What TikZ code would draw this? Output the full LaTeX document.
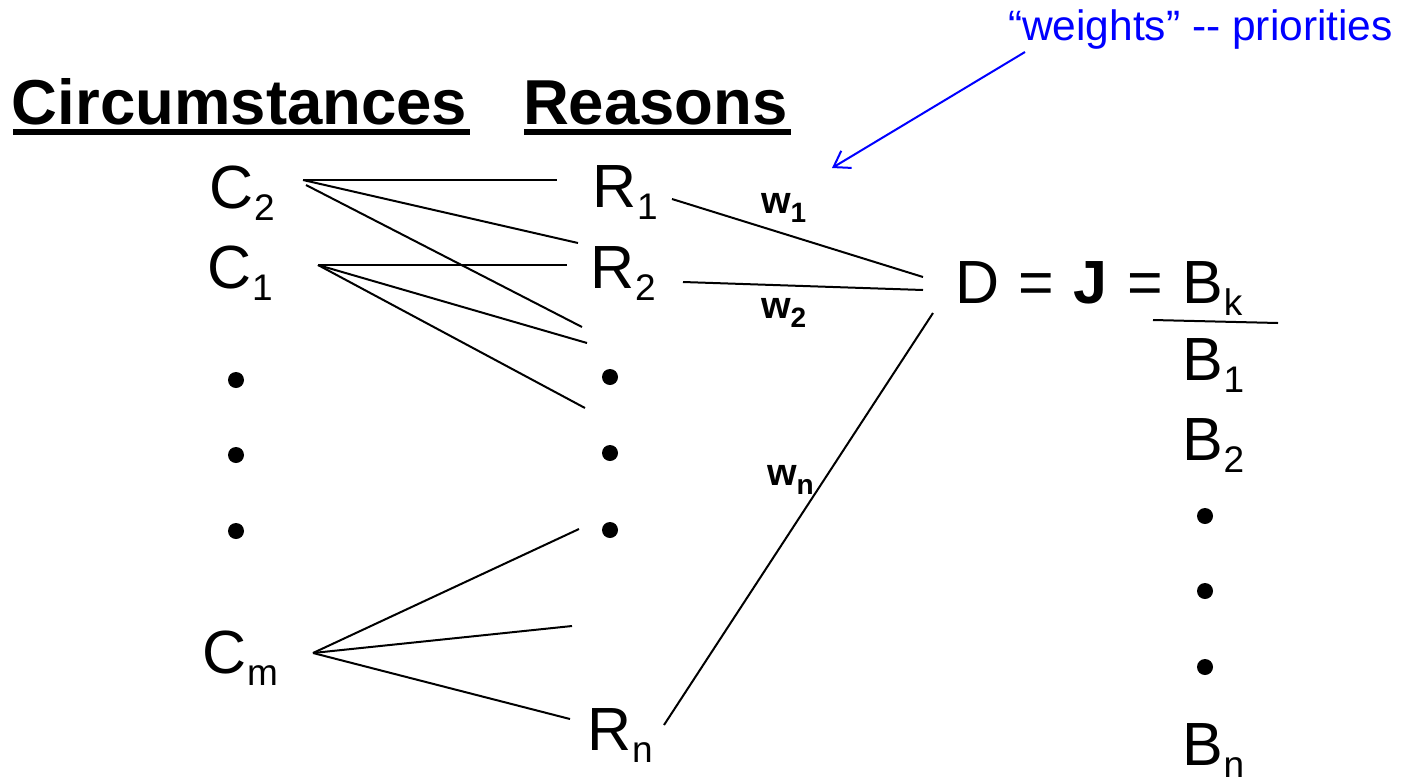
\documentclass[tikz,border=0pt]{standalone}
\usepackage{fontspec}
\setmainfont{Liberation Sans}
\usetikzlibrary{arrows.meta}
\newcommand\sbs[1]{\kern1pt\raisebox{-12pt}{\fontsize{37}{37}\selectfont #1}}
\newcommand\wsb[1]{\raisebox{-9pt}{\fontsize{28}{28}\selectfont\bfseries #1}}
\begin{document}
\begin{tikzpicture}[x=1pt,y=-1pt,
  lbl/.style={anchor=base west,inner sep=0pt,outer sep=0pt,font=\fontsize{61}{61}\selectfont},
  head/.style={anchor=base west,inner sep=0pt,outer sep=0pt,font=\fontsize{63.5}{63.5}\selectfont\bfseries},
  wl/.style={anchor=base west,inner sep=0pt,outer sep=0pt,font=\fontsize{38}{38}\selectfont\bfseries},
  note/.style={anchor=base west,inner sep=0pt,outer sep=0pt,text=blue,font=\fontsize{42.5}{42.5}\selectfont},
  conn/.style={line width=2pt},
  dotc/.style={circle,fill,inner sep=0pt,minimum size=16pt}]
\useasboundingbox (0,0) rectangle (1409,780);
% headings
\node[head] (circ) at (12,124) {Circumstances};
\node[head] (reas) at (523,124) {Reasons};
\fill (13,129) rectangle (470,135);
\fill (524,129) rectangle (791,135);
% note
\node[note] (note) at (1008,40) {“weights” -{}- priorities};
% circumstances
\node[lbl] (C2) at (209,208) {C\sbs{2}};
\node[lbl] (C1) at (207,288) {C\sbs{1}};
\node[dotc] (cd1) at (236,380) {};
\node[dotc] (cd2) at (236,455) {};
\node[dotc] (cd3) at (236,531) {};
\node[lbl] (Cm) at (202,673) {C\sbs{m}};
% reasons
\node[lbl] (R1) at (592,207) {R\sbs{1}};
\node[lbl] (R2) at (590,288) {R\sbs{2}};
\node[dotc] (rd1) at (610,377) {};
\node[dotc] (rd2) at (610,453) {};
\node[dotc] (rd3) at (610,530) {};
\node[lbl] (Rn) at (587,750) {R\sbs{n}};
% decision
\node[lbl] (D) at (955,303) {D\hspace{19.5pt}=\hspace{19.5pt}\textbf{J}\hspace{19.5pt}=\hspace{19.5pt}B\sbs{k}};
\node[lbl] (B1) at (1182,380) {B\sbs{1}};
\node[lbl] (B2) at (1182,460) {B\sbs{2}};
\node[dotc] (bd1) at (1205,516) {};
\node[dotc] (bd2) at (1205,591) {};
\node[dotc] (bd3) at (1205,667) {};
\node[lbl] (Bn) at (1182,765) {B\sbs{n}};
% weights
\node[wl] (w1) at (761,213) {w\wsb{1}};
\node[wl] (w2) at (761,318) {w\wsb{2}};
\node[wl] (wn) at (767,485) {w\wsb{n}};
% connector end points
\coordinate (c2a) at (303,180);
\coordinate (c2b) at (306,185);
\coordinate (c1a) at (318,265);
\coordinate (cma) at (313,653);
\coordinate (r1a) at (557,180);
\coordinate (r2a) at (578,243);
\coordinate (r2b) at (567,265);
\coordinate (x1) at (582,327);
\coordinate (x2) at (587,343);
\coordinate (x3) at (585,408);
\coordinate (x4) at (579,529);
\coordinate (x5) at (572,626);
\coordinate (rna) at (570,719);
\coordinate (r1e) at (672,199);
\coordinate (r2e) at (683,282);
\coordinate (rne) at (664,725);
\coordinate (d1) at (923,277);
\coordinate (d2) at (923,290);
\coordinate (d3) at (933,313);
\coordinate (fa) at (1153,320);
\coordinate (fb) at (1278,323);
\coordinate (na) at (1025,52);
\coordinate (nb) at (832,168);
% connectors
\draw[conn] (c2a) -- (r1a);
\draw[conn] (c2a) -- (r2a);
\draw[conn] (c2b) -- (x1);
\draw[conn] (c1a) -- (r2b);
\draw[conn] (c1a) -- (x2);
\draw[conn] (c1a) -- (x3);
\draw[conn] (cma) -- (x4);
\draw[conn] (cma) -- (x5);
\draw[conn] (cma) -- (rna);
\draw[conn] (r1e) -- (d1);
\draw[conn] (r2e) -- (d2);
\draw[conn] (rne) -- (d3);
\draw[conn] (fa) -- (fb);
\draw[line width=2pt,blue,-{Straight Barb[length=15pt,width=20pt,line width=2pt]}] (na) -- (nb);
\end{tikzpicture}
\end{document}
